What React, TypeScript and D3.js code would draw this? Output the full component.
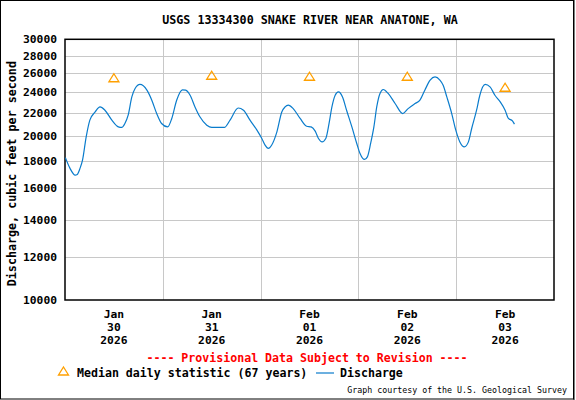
import React from "react";
import * as d3 from "d3";

const title = "USGS 13334300 SNAKE RIVER NEAR ANATONE, WA";
const yLabel = "Discharge, cubic feet per second";
const yTicks = [10000, 12000, 14000, 16000, 18000, 20000, 22000, 24000, 26000, 28000, 30000];
const dayMonths = ["Jan", "Jan", "Feb", "Feb", "Feb"];
const dayNums = ["30", "31", "01", "02", "03"];
const dayYears = ["2026", "2026", "2026", "2026", "2026"];
// hours since Jan 30 2026 00:00
const medianHours = [12, 36, 60, 84, 108];
const medianValues = [25460, 25730, 25620, 25620, 24460];

const flowHours = [
  0.1, 1.2, 2.5, 3.0, 3.7, 4.3, 5.2, 6.1, 7.4, 8.6, 9.8, 11.5, 13.1, 13.9, 14.7, 15.5, 16.4, 17.2,
  18.4, 20.1, 21.3, 22.5, 23.7, 25.2, 26.2, 27.4, 28.8, 29.6, 30.7, 31.9, 33.1, 34.8, 36.0, 39.1,
  40.5, 42.5, 43.8, 45.4, 47.1, 48.3, 49.1, 49.9, 50.7, 52.0, 53.2, 54.0, 54.8, 56.0, 57.7, 59.3,
  60.4, 61.4, 62.2, 63.1, 64.0, 64.8, 65.5, 66.3, 67.1, 68.1, 69.1, 70.4, 71.6, 72.4, 73.5, 74.2,
  75.0, 75.8, 76.5, 77.3, 78.1, 79.3, 81.0, 82.9, 84.2, 85.9, 87.1, 88.3, 89.6, 90.8, 92.0, 92.8,
  93.7, 94.9, 95.9, 96.9, 98.0, 99.0, 99.8, 101.0, 101.8, 103.1, 104.3, 105.5, 106.8, 108.0, 108.8,
  109.8, 110.3,
];
const flowValues = [
  18220, 17430, 16920, 16970, 17430, 18030, 19890, 21340, 22090, 22560, 22250, 21340, 20740, 20690,
  21040, 21790, 23530, 24380, 24800, 24210, 23210, 21940, 21040, 20740, 21490, 23210, 24250, 24210,
  23700, 22560, 21640, 20890, 20690, 20690, 21340, 22460, 22250, 21340, 20460, 19750, 19200, 18940,
  19200, 20310, 22090, 22560, 22730, 22400, 21490, 20800, 20740, 20370, 19750, 19470, 19750, 21040,
  22560, 23700, 24040, 23530, 22250, 20740, 19340, 18540, 18080, 18280, 19340, 20740, 22560, 23880,
  24280, 23880, 22890, 21940, 22400, 22890, 23210, 24210, 25250, 25600, 25250, 24720, 23530, 21940,
  20460, 19470, 19070, 19470, 20600, 22250, 23700, 24800, 24550, 23700, 23040, 22250, 21490, 21270,
  20980,
];

const W = 576;
const H = 400;
const L = 65;
const R = 554;
const T = 39.3;
const B = 300;
const mono = "'DejaVu Sans Mono', monospace";

export default function App() {
  const x = d3.scaleLinear().domain([0, 120]).range([L, R]);
  const y = d3.scaleLog().domain([10000, 30000]).range([B, T]);
  const line = d3
    .line<number>()
    .x((_, i) => x(flowHours[i]))
    .y((d) => y(d))
    .curve(d3.curveMonotoneX);
  const gridX = [24, 48, 72, 96];
  const tri = (cx: number, cy: number) =>
    `M${cx},${cy - 4.5}L${cx + 5},${cy + 3.5}L${cx - 5},${cy + 3.5}Z`;

  return (
    <div style={{ position: "fixed", left: 0, top: 0 }}>
      <svg width={W} height={H} style={{ display: "block", background: "#fff" }}>
        <rect x={0.5} y={0.5} width={573} height={398.5} fill="#fff" stroke="#000" strokeWidth={1} />
        <line x1={574} x2={574} y1={0} y2={400} stroke="#000" strokeWidth={1} />
        <text x={310} y={24} textAnchor="middle" fontFamily={mono} fontWeight="bold" fontSize={11.7} fill="#000">
          {title}
        </text>
        {/* grid */}
        <g stroke="#c8c8c8" strokeWidth={1} shapeRendering="crispEdges">
          {yTicks.slice(1, -1).map((t) => (
            <line key={t} x1={L} x2={R} y1={Math.round(y(t)) + 0.5} y2={Math.round(y(t)) + 0.5} />
          ))}
          {gridX.map((h) => (
            <line key={h} x1={Math.round(x(h)) + 0.5} x2={Math.round(x(h)) + 0.5} y1={T} y2={B} />
          ))}
        </g>
        {/* plot frame */}
        <rect x={L} y={T} width={R - L} height={B - T} fill="none" stroke="#000" strokeWidth={1.5} />
        {/* y tick labels */}
        <g fontFamily={mono} fontWeight="bold" fontSize={11.3} fill="#000" textAnchor="end">
          {yTicks.map((t) => (
            <text key={t} x={57} y={y(t) + 4}>
              {t}
            </text>
          ))}
        </g>
        <text
          transform={`translate(16,${(T + B) / 2 + 4}) rotate(-90)`}
          textAnchor="middle"
          fontFamily={mono}
          fontWeight="bold"
          fontSize={11.7}
          fill="#000"
        >
          {yLabel}
        </text>
        {/* x tick labels */}
        <g fontFamily={mono} fontWeight="bold" fontSize={11.3} fill="#000" textAnchor="middle">
          {medianHours.map((h, i) => (
            <g key={h}>
              <text x={x(h)} y={318}>{dayMonths[i]}</text>
              <text x={x(h)} y={331}>{dayNums[i]}</text>
              <text x={x(h)} y={344}>{dayYears[i]}</text>
            </g>
          ))}
        </g>
        {/* discharge */}
        <path d={line(flowValues) || ""} fill="none" stroke="#0a7ccc" strokeWidth={1.2} />
        {/* medians */}
        {medianHours.map((h, i) => (
          <path key={h} d={tri(x(h), y(medianValues[i]))} fill="none" stroke="#ffa000" strokeWidth={1.3} />
        ))}
        <text x={307} y={362} textAnchor="middle" fontFamily={mono} fontWeight="bold" fontSize={11.6} fill="#ff0000">
          ---- Provisional Data Subject to Revision ----
        </text>
        {/* legend */}
        <path d={tri(63.5, 371.5)} fill="none" stroke="#ffa000" strokeWidth={1.3} />
        <text x={77} y={377} fontFamily={mono} fontWeight="bold" fontSize={11.6} fill="#000">
          Median daily statistic (67 years)
        </text>
        <line x1={316} x2={334} y1={373} y2={373} stroke="#0a7ccc" strokeWidth={1.2} />
        <text x={340} y={377} fontFamily={mono} fontWeight="bold" fontSize={11.6} fill="#000">
          Discharge
        </text>
        <text x={567} y={393} textAnchor="end" fontFamily={mono} fontSize={8.3} fill="#000">
          Graph courtesy of the U.S. Geological Survey
        </text>
      </svg>
    </div>
  );
}
